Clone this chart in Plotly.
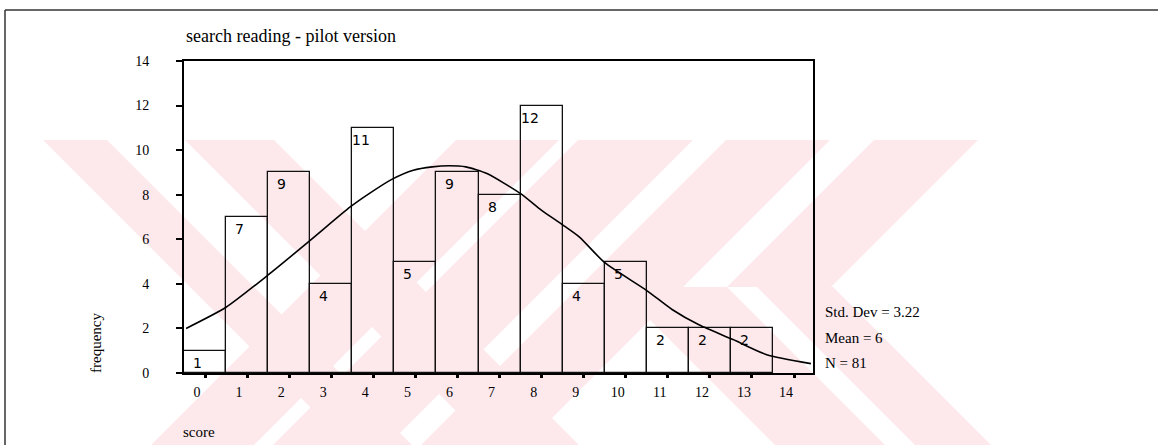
import plotly.graph_objects as go

# ---------------- data ----------------
scores = list(range(14))
freq = [1, 7, 9, 4, 11, 5, 9, 8, 12, 4, 5, 2, 2, 2]
x_tick_vals = list(range(15))
x_tick_text = [str(v) for v in x_tick_vals]
y_tick_vals = [0, 2, 4, 6, 8, 10, 12, 14]
curve_x = [-0.45, 0.5, 1.5, 2.5, 3.45, 3.9, 4.45, 4.95, 5.4, 5.8, 6.2, 6.7,
           7.5, 8.0, 8.5, 8.9, 9.5, 10.5, 11.1, 11.75, 12.55, 13.35, 14.4]
curve_y = [2.0, 2.95, 4.4, 5.95, 7.45, 8.05, 8.7, 9.1, 9.25, 9.3, 9.25, 8.95,
           8.05, 7.3, 6.65, 6.1, 4.95, 3.7, 2.85, 2.15, 1.5, 0.82, 0.42]
chart_title = "search reading - pilot version"
x_title = "score"
y_title = "frequency"
stats_lines = ["Std. Dev = 3.22", "Mean = 6", "N = 81"]

# ---------------- layout geometry ----------------
W, H = 1158, 445
L, R, T, B = 184, 345, 61, 72
PW, PH = W - L - R, H - T - B


def px(xp):
    return (xp - L) / PW


def py(yp):
    return (H - B - yp) / PH


SERIF = "Liberation Serif, Times New Roman, serif"
SANS = "DejaVu Sans, sans-serif"
PINK = "#fde8ec"

fig = go.Figure()

fig.add_trace(go.Bar(
    x=scores, y=freq, width=1,
    marker=dict(color="rgba(0,0,0,0)", line=dict(color="#111111", width=1.3)),
    hoverinfo="x+y", showlegend=False,
))

fig.add_trace(go.Scatter(
    x=curve_x, y=curve_y, mode="lines",
    line=dict(color="black", width=1.6, shape="spline", smoothing=0.6),
    hoverinfo="skip", showlegend=False,
))

annotations = []
for s, f in zip(scores, freq):
    annotations.append(dict(
        x=s, y=f, xref="x", yref="y", text=str(f), showarrow=False,
        xanchor="right", yanchor="top", xshift=-1, yshift=-2,
        font=dict(family=SANS, size=14, color="black"),
    ))

annotations.append(dict(
    x=px(184), y=py(36), xref="paper", yref="paper", text=chart_title,
    showarrow=False, xanchor="left", yanchor="middle",
    font=dict(family=SERIF, size=18, color="black"),
))
annotations.append(dict(
    x=px(181), y=py(432), xref="paper", yref="paper", text=x_title,
    showarrow=False, xanchor="left", yanchor="middle",
    font=dict(family=SERIF, size=15, color="black"),
))
annotations.append(dict(
    x=px(96), y=py(343), xref="paper", yref="paper", text=y_title,
    showarrow=False, xanchor="center", yanchor="middle", textangle=-90,
    font=dict(family=SERIF, size=15, color="black"),
))
for i, line in enumerate(stats_lines):
    annotations.append(dict(
        x=px(823), y=py(312 + 25.5 * i), xref="paper", yref="paper", text=line,
        showarrow=False, xanchor="left", yanchor="middle",
        font=dict(family=SERIF, size=15, color="black"),
    ))

# ---------------- watermark (decorative) ----------------
def back_band(u1, u2, ya, yb):
    # "\" band: x - y in [u1, u2]
    return [(u1 + ya, ya), (u2 + ya, ya), (u2 + yb, yb), (u1 + yb, yb)]


def fwd_band(v1, v2, ya, yb):
    # "/" band: x + y in [v1, v2]
    return [(v1 - ya, ya), (v2 - ya, ya), (v2 - yb, yb), (v1 - yb, yb)]


polys = [
    back_band(-97, -33, 140, 445),
    back_band(45, 134, 140, 445),
    fwd_band(596, 699, 140, 445),
    fwd_band(718, 833, 140, 445),
    fwd_band(866, 970, 140, 445),
    fwd_band(1014, 1118, 140, 287),
    back_band(470, 546, 287, 445),
    back_band(330, 440, 287, 445),
]

shapes = []
for poly in polys:
    path = "M " + " L ".join(f"{px(x):.5f},{py(y):.5f}" for x, y in poly) + " Z"
    shapes.append(dict(type="path", path=path, xref="paper", yref="paper",
                       fillcolor=PINK, line=dict(width=0), layer="below"))

# outer frame of the scanned page (top and left)
shapes.append(dict(type="line", xref="paper", yref="paper",
                   x0=px(5), x1=px(1158), y0=py(10), y1=py(10),
                   line=dict(color="#333333", width=1.5)))
shapes.append(dict(type="line", xref="paper", yref="paper",
                   x0=px(5), x1=px(5), y0=py(10), y1=py(445),
                   line=dict(color="#333333", width=1.5)))

fig.update_layout(
    width=W, height=H,
    margin=dict(l=L, r=R, t=T, b=B, pad=0),
    paper_bgcolor="white",
    plot_bgcolor="rgba(0,0,0,0)",
    showlegend=False,
    bargap=0,
    annotations=annotations,
    shapes=shapes,
    xaxis=dict(
        range=[-0.5, 14.45], tickmode="array", tickvals=x_tick_vals,
        ticktext=x_tick_text, ticks="outside", ticklen=3, tickwidth=3,
        tickcolor="black", showline=True, linecolor="black", linewidth=2,
        mirror=True, showgrid=False, zeroline=False,
        tickfont=dict(family=SERIF, size=14, color="black"),
        ticklabelshift=-8, ticklabelstandoff=2,
    ),
    yaxis=dict(
        range=[0, 14], tickmode="array", tickvals=y_tick_vals,
        ticks="outside", ticklen=6, tickwidth=2, tickcolor="black",
        showline=True, linecolor="black", linewidth=2, mirror=True,
        showgrid=False, zeroline=False,
        tickfont=dict(family=SERIF, size=14, color="black"),
        ticklabelstandoff=24,
    ),
)

fig.write_html("out.html")
